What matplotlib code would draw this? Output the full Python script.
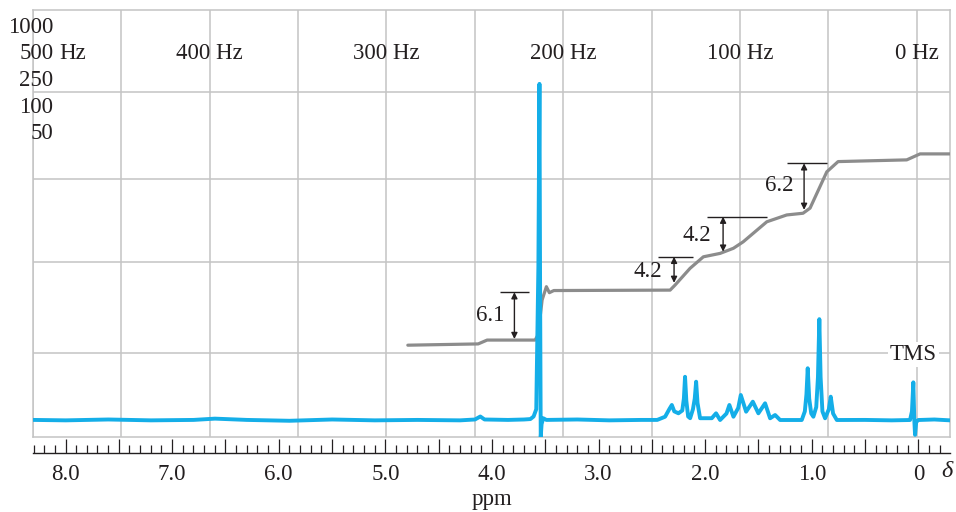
import numpy as np
import matplotlib
matplotlib.use("Agg")
import matplotlib.pyplot as plt
from matplotlib.ticker import MultipleLocator

plt.rcParams["font.family"] = ["Liberation Serif", "DejaVu Serif"]

# spectrum trace (ppm, intensity)
spec_ppm = [8.305, 8.0, 7.6, 7.2, 6.8, 6.6, 6.3, 5.9, 5.5, 5.1, 4.7, 4.3, 4.16, 4.11, 4.07,
            3.85, 3.70, 3.64, 3.61, 3.585, 3.565, 3.555, 3.549, 3.543, 3.535, 3.52, 3.49,
            3.2, 2.9, 2.6, 2.45, 2.376, 2.335, 2.313, 2.290, 2.251, 2.215, 2.200, 2.189,
            2.177, 2.160, 2.141, 2.115, 2.098, 2.085, 2.072, 2.048, 1.938, 1.898, 1.860,
            1.80, 1.773, 1.735, 1.69, 1.666, 1.616, 1.553, 1.501, 1.438, 1.391, 1.344,
            1.297, 1.094, 1.065, 1.050, 1.038, 1.024, 1.005, 0.985, 0.958, 0.942, 0.929,
            0.917, 0.900, 0.875, 0.840, 0.822, 0.800, 0.765, 0.5, 0.25, 0.078, 0.060,
            0.047, 0.038, 0.031, 0.020, 0.0, -0.15, -0.297]
spec_int = [4.0, 3.9, 4.1, 3.9, 4.0, 4.3, 4.0, 3.8, 4.1, 3.9, 4.0, 3.9, 4.1, 4.8, 4.1,
            4.0, 4.1, 4.2, 4.8, 6.5, 40.0, 82.7, 35.0, 0.0, 3.0, 4.4, 4.0,
            4.1, 3.9, 4.0, 4.0, 4.75, 6.6, 7.5, 6.0, 5.55, 6.2, 9.0, 14.1,
            8.5, 4.8, 4.4, 6.5, 9.0, 12.95, 8.0, 4.4, 4.4, 5.55, 3.98,
            5.5, 7.5, 4.75, 6.8, 9.84, 5.93, 8.27, 5.55, 7.89, 4.38, 5.15,
            3.98, 3.98, 6.0, 10.0, 16.1, 9.0, 5.5, 4.75, 7.0, 14.0, 27.6,
            14.0, 6.0, 4.38, 6.5, 9.44, 5.5, 3.98, 4.0, 3.9, 3.98, 6.0,
            12.8, 4.0, 0.5, 3.5, 3.98, 4.1, 3.9]

# integral trace
integ_ppm = [4.790, 4.130, 4.046, 3.596, 3.568, 3.530, 3.490, 3.462, 3.420, 2.329,
             2.282, 2.142, 2.017, 1.860, 1.735, 1.644, 1.422, 1.235, 1.082, 1.016,
             0.859, 0.753, 0.109, -0.016, -0.297]
integ_val = [21.5, 21.8, 22.7, 22.7, 23.9, 32.1, 35.2, 33.8, 34.3, 34.4,
             35.6, 39.5, 42.2, 43.0, 44.2, 45.7, 50.4, 52.0, 52.4, 53.6,
             62.1, 64.5, 64.9, 66.3, 66.3]

# integration steps
step_labels = ["6.1", "4.2", "4.2", "6.2"]
step_arrow_x = [3.79, 2.292, 1.832, 1.072]
step_top = [33.9, 42.2, 51.6, 64.1]
step_bottom = [22.95, 36.1, 43.4, 53.2]
step_line_x0 = [3.925, 2.442, 1.982, 1.232]
step_line_x1 = [3.653, 2.114, 1.420, 0.857]
step_text_x = [4.02, 2.54, 2.079, 1.309]
step_text_y = [28.4, 38.7, 47.3, 58.8]

# Hz scale
hz_grid = np.arange(0, 501, 50)
hz_labels = [400, 300, 200, 100, 0]
sweep_labels = ["1000", "500", "250", "100", "50"]
sweep_y = [95.9, 89.7, 83.4, 77.2, 71.0]
hz_per_ppm = 60.3
hz_zero = 0.015

ppm_major = np.arange(0, 8.01, 0.5)
ppm_labels = ["0" if v == 0 else (f"{v:.1f}" if v % 1 == 0 else "") for v in ppm_major]

row_lines = [19.7, 41.0, 60.4, 80.7]

txt = "#231f20"
grid_c = "#c4c4c4"
blue = "#14aee8"
grey = "#8c8c8c"
fs = 16.5

fig = plt.figure(figsize=(9.56, 5.12), dpi=100)
ax = fig.add_axes([33 / 956, 1 - 437 / 512, 917 / 956, 427 / 512])
ax.set_xlim(8.305, -0.297)
ax.set_ylim(0, 100)

hz_ppm = hz_grid / hz_per_ppm + hz_zero
ax.set_xticks(hz_ppm)
ax.set_yticks(row_lines)
ax.grid(True, color=grid_c, lw=1.1)
ax.set_axisbelow(True)
ax.tick_params(length=0, labelbottom=False, labelleft=False)
for s in ax.spines.values():
    s.set_color(grid_c)
    s.set_linewidth(1.1)

ax.plot(integ_ppm, integ_val, color=grey, lw=2.3, solid_capstyle="round", zorder=3)
ax.plot(spec_ppm, spec_int, color=blue, lw=2.8, solid_joinstyle="round", zorder=4)

for i in range(len(step_labels)):
    ax.hlines(step_top[i], step_line_x0[i], step_line_x1[i], color=txt, lw=1.0, zorder=5)
    ax.annotate("", xy=(step_arrow_x[i], step_bottom[i]), xytext=(step_arrow_x[i], step_top[i]),
                arrowprops=dict(arrowstyle="<|-|>", color=txt, lw=1.0, mutation_scale=9,
                                shrinkA=0, shrinkB=0), zorder=5)
    ax.text(step_text_x[i], step_text_y[i], step_labels[i], fontsize=fs, color=txt,
            ha="center", va="center", zorder=5)

ax.text(0.047, 19.3, "TMS", fontsize=fs, color=txt, ha="center", va="center", zorder=5,
        bbox=dict(facecolor="white", edgecolor="none", pad=1.5))

for hz in hz_labels:
    ax.text(hz / hz_per_ppm + hz_zero, 89.9, f"{hz} Hz", fontsize=fs, color=txt,
            ha="center", va="center")

for lab, y in zip(sweep_labels, sweep_y):
    ax.text(8.117, y, lab, fontsize=fs, color=txt, ha="right", va="center", clip_on=False)
ax.text(8.062, sweep_y[1], "Hz", fontsize=fs, color=txt, ha="left", va="center")

# ppm ruler under the chart
ax2 = fig.add_axes([33 / 956, 1 - 453 / 512, 917 / 956, 16 / 512])
ax2.set_xlim(8.305, -0.297)
ax2.set_ylim(0, 1)
ax2.patch.set_alpha(0)
for side in ["top", "left", "right"]:
    ax2.spines[side].set_visible(False)
ax2.spines["bottom"].set_color(txt)
ax2.spines["bottom"].set_linewidth(1.0)
ax2.set_yticks([])
ax2.set_xticks(ppm_major)
ax2.set_xticklabels(ppm_labels, fontsize=fs, color=txt)
ax2.xaxis.set_minor_locator(MultipleLocator(0.1))
ax2.tick_params(axis="x", which="major", direction="in", length=10, width=0.9, color=txt, pad=8)
ax2.tick_params(axis="x", which="minor", direction="in", length=5.8, width=0.9, color=txt)
ax2.set_xlabel("ppm", fontsize=fs, color=txt, labelpad=3)
ax2.text(-0.265, -1.18, "δ", fontsize=17.5, style="italic", color=txt, ha="center", va="center",
         transform=ax2.get_xaxis_transform())

fig.savefig("out.png", dpi=100)
